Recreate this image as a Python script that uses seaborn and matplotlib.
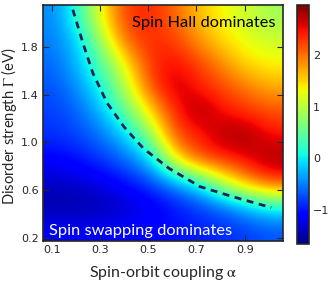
import numpy as np
import seaborn as sns
import matplotlib
matplotlib.use('Agg')
import matplotlib.pyplot as plt

# cell centres of the map (spin-orbit coupling alpha, disorder strength Gamma, top row first)
alpha = [0.114, 0.213, 0.313, 0.412, 0.512, 0.611, 0.711, 0.810, 0.910, 1.009]
gamma = [2.051, 1.854, 1.656, 1.459, 1.261, 1.064, 0.866, 0.669, 0.471, 0.274]

# values, one list per Gamma row
g205 = [-0.45, 0.25, 1.40, 2.30, 2.35, 2.05, 1.60, 1.30, 1.10, 0.85]
g185 = [-0.50, -0.10, 0.95, 2.10, 2.35, 2.25, 1.80, 1.45, 1.25, 1.10]
g166 = [-0.60, -0.20, 0.45, 1.40, 2.35, 2.50, 2.25, 1.85, 1.45, 1.35]
g146 = [-0.70, -0.40, 0.15, 1.05, 2.15, 2.70, 2.40, 2.20, 1.95, 1.70]
g126 = [-0.80, -0.60, -0.20, 0.55, 1.50, 2.35, 2.85, 2.45, 2.30, 2.15]
g106 = [-0.85, -0.75, -0.50, -0.10, 0.80, 2.20, 2.35, 2.80, 2.85, 2.45]
g087 = [-1.10, -1.00, -0.80, -0.55, -0.10, 1.40, 2.25, 2.35, 2.55, 2.85]
g067 = [-1.35, -1.30, -1.20, -1.00, -0.75, -0.35, 0.15, 1.10, 1.80, 2.25]
g047 = [-1.50, -1.50, -1.45, -1.35, -1.20, -1.00, -0.80, -0.55, -0.20, 0.15]
g027 = [-1.15, -1.15, -1.15, -1.10, -1.05, -1.00, -0.95, -0.90, -0.80, -0.70]

# dashed boundary between the two regimes
line_alpha = [0.188, 0.230, 0.271, 0.330, 0.400, 0.480, 0.585, 0.715, 0.852, 1.010]
line_gamma = [2.110, 1.830, 1.580, 1.330, 1.130, 0.950, 0.785, 0.630, 0.545, 0.455]

field = np.array([g205, g185, g166, g146, g126, g106, g087, g067, g047, g027])

sns.set_style('ticks')
plt.rcParams['font.family'] = ['DejaVu Sans']
plt.rcParams['mathtext.fontset'] = 'stix'

fig = plt.figure(figsize=(3.32, 2.85), dpi=100)
ax = fig.add_axes([43 / 332, 1 - 241 / 285, 240 / 332, 236 / 285])
cax = fig.add_axes([296.5 / 332, 1 - 244 / 285, 12.5 / 332, 239 / 285])

step_a = alpha[1] - alpha[0]
step_g = gamma[0] - gamma[1]
extent = [alpha[0] - step_a / 2, alpha[-1] + step_a / 2,
          gamma[-1] - step_g / 2, gamma[0] + step_g / 2]
im = ax.imshow(field, cmap='jet', vmin=-1.65, vmax=2.96, extent=extent,
               aspect='auto', interpolation='bicubic')

sns.lineplot(x=line_alpha, y=line_gamma, ax=ax, sort=False, color='#1b2260',
             lw=2, linestyle=(0, (2.5, 2)))

ax.set_xlim(extent[0], extent[1])
ax.set_ylim(extent[2], extent[3])
ax.set_xticks([0.1, 0.3, 0.5, 0.7, 0.9])
ax.set_yticks([0.2, 0.6, 1.0, 1.4, 1.8])
ax.tick_params(direction='in', top=True, right=True, length=4, width=0.8,
               labelsize=8, pad=3)
for s in ax.spines.values():
    s.set_linewidth(1.2)

fam = ['Lato', 'DejaVu Sans']
ax.set_xlabel(r'Spin-orbit coupling $\mathrm{\alpha}$', labelpad=6,
              family=fam, fontsize=11.5)
ax.set_ylabel(r'Disorder strength $\Gamma$ (eV)', family=fam, fontsize=10.6)
ax.yaxis.set_label_coords(-0.098, 0.485)

ax.text(0.37, 0.906, 'Spin Hall dominates', transform=ax.transAxes,
        ha='left', va='baseline', color='black', family=fam, fontsize=11.8)
ax.text(0.027, 0.025, 'Spin swapping dominates', transform=ax.transAxes,
        ha='left', va='baseline', color='white', family=fam, fontsize=11.8)

cb = fig.colorbar(im, cax=cax, ticks=[-1, 0, 1, 2])
cb.outline.set_linewidth(1.2)
cax.tick_params(direction='in', length=4, width=0.8, labelsize=8, pad=3)

fig.savefig('out.png', dpi=100)
